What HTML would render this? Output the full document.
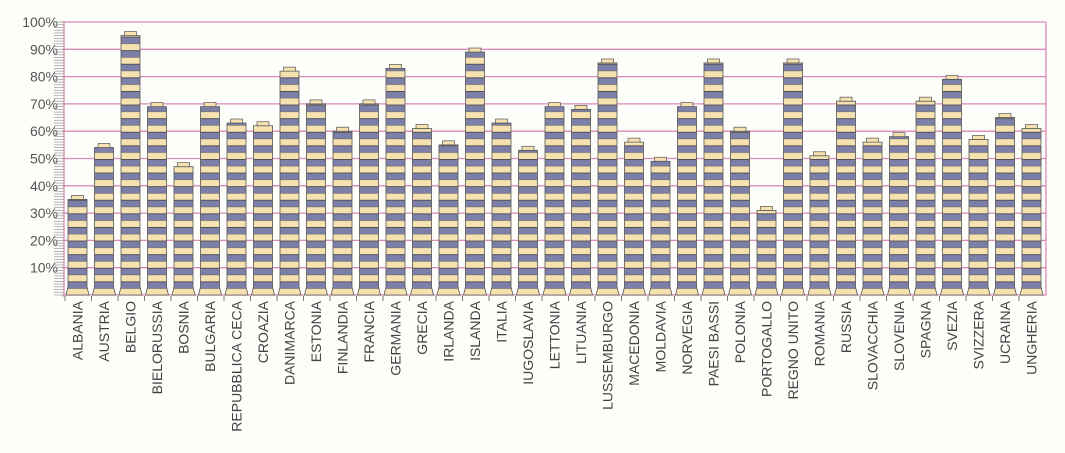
<!DOCTYPE html>
<html><head><meta charset="utf-8"><style>
body{margin:0;background:#fdfdfa;}
svg{display:block;font-family:"Liberation Sans",sans-serif;}
</style></head><body>
<svg id="s" width="1065" height="453" xmlns="http://www.w3.org/2000/svg">
<defs>
<pattern id="st" patternUnits="userSpaceOnUse" x="0" y="295" width="40" height="13.6">
<rect width="40" height="13.6" fill="#f6e2b0"/>
<rect y="0" width="40" height="6.8" fill="#7c7fa8"/>
<rect y="0" width="40" height="0.8" fill="#444"/>
<rect y="6.8" width="40" height="0.6" fill="#666"/>
</pattern>
</defs>
<g id="g"></g>
</svg>
<script>
const names=["ALBANIA","AUSTRIA","BELGIO","BIELORUSSIA","BOSNIA","BULGARIA","REPUBBLICA CECA","CROAZIA","DANIMARCA","ESTONIA","FINLANDIA","FRANCIA","GERMANIA","GRECIA","IRLANDA","ISLANDA","ITALIA","IUGOSLAVIA","LETTONIA","LITUANIA","LUSSEMBURGO","MACEDONIA","MOLDAVIA","NORVEGIA","PAESI BASSI","POLONIA","PORTOGALLO","REGNO UNITO","ROMANIA","RUSSIA","SLOVACCHIA","SLOVENIA","SPAGNA","SVEZIA","SVIZZERA","UCRAINA","UNGHERIA"];
const vals=[35,54,95,69,47,69,63,62,82,70,60,70,83,61,55,89,63,53,69,68,85,56,49,69,85,60,31,85,51,71,56,58,71,79,57,65,61];
let h='';
const y0=295,u=2.73;
for(let i=0;i<=10;i++){const y=y0-i*u*10;h+=`<line x1="62" y1="${y}" x2="1046" y2="${y}" stroke="#d98ab8" stroke-width="1.3"/>`;
if(i>0)h+=`<text x="58" y="${y+5}" text-anchor="end" font-size="14" fill="#555">${i*10}%</text>`;}
h+=`<line x1="1046" y1="22" x2="1046" y2="295" stroke="#d98ab8" stroke-width="1.3"/>`;
h+=`<line x1="64" y1="22" x2="64" y2="297" stroke="#d98ab8" stroke-width="1.3"/>`;
for(let y=22;y<295;y+=2.73)h+=`<line x1="54" y1="${y}" x2="64" y2="${y}" stroke="#999" stroke-width="0.7"/>`;
vals.forEach((v,i)=>{const x=68+i*26.5,w=19,cx=x+w/2,top=y0-v*u;
h+=`<path d="M${x-2} ${y0} L${x} ${y0-8} L${x} ${top} L${x+w} ${top} L${x+w} ${y0-8} L${x+w+2} ${y0} Z" fill="url(#st)" stroke="#555" stroke-width="0.8"/>`;
h+=`<rect x="${cx-6}" y="${top-4}" width="12" height="4" fill="#f6e2b0" stroke="#555" stroke-width="0.7"/>`;
h+=`<line x1="${x-3}" y1="${y0+1}" x2="${x-3}" y2="${y0+6}" stroke="#777"/>`;
h+=`<text transform="translate(${cx+5},301) rotate(-90)" text-anchor="end" font-size="14" fill="#444">${names[i]}</text>`;});
document.getElementById('g').innerHTML=h;
</script>
</body></html>
